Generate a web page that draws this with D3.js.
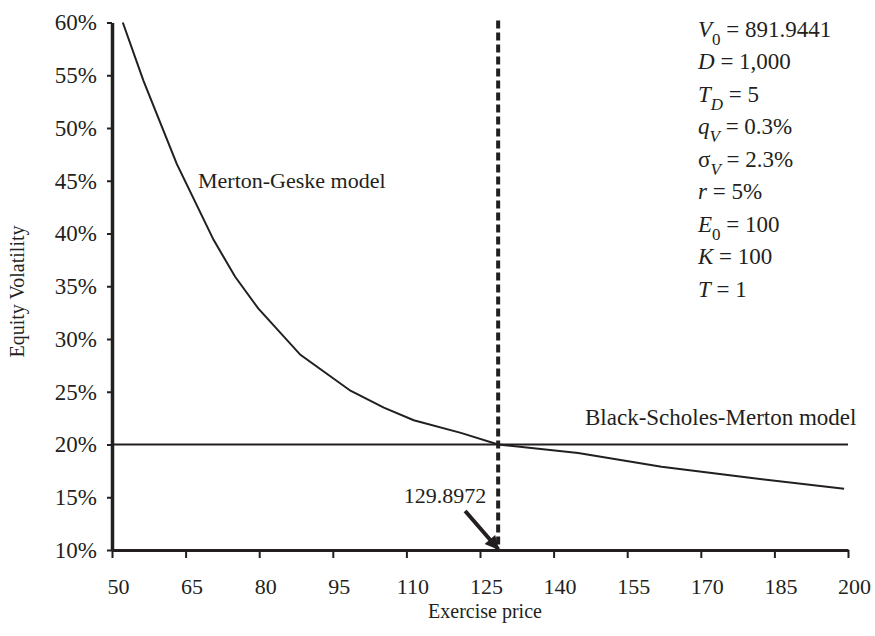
<!DOCTYPE html>
<html>
<head>
<meta charset="utf-8">
<script src="https://cdn.jsdelivr.net/npm/d3@7"></script>
<style>
  body { margin: 0; background: #fff; }
  text { font-family: "Liberation Serif", "Times New Roman", serif; fill: #231f20; }
</style>
</head>
<body>
<script>
// ticks
var priceTicks = [50, 65, 80, 95, 110, 125, 140, 155, 170, 185, 200];
var volTicks = [0.10, 0.15, 0.20, 0.25, 0.30, 0.35, 0.40, 0.45, 0.50, 0.55, 0.60];

// Merton-Geske implied equity volatility vs exercise price
var mgPrice = [52.2, 56.4, 63.2, 70.7, 75.1, 79.8, 88.4, 98.6, 105.4, 111.5, 121.1, 128.7, 145, 162, 180, 199.2];
var mgVol   = [0.600, 0.545, 0.466, 0.394, 0.359, 0.329, 0.285, 0.251, 0.235, 0.223, 0.211, 0.200, 0.192, 0.179, 0.1685, 0.158];

// Black-Scholes-Merton flat volatility
var bsmVol = 0.20;
var bsmRange = [50, 200];

// crossing point
var crossPrice = 128.7;
var crossLabel = "129.8972";

// parameter box: [text, italic, subscript]
var params = [
  [["V", 1, 0], ["0", 0, 1], [" = 891.9441", 0, 0]],
  [["D", 1, 0], [" = 1,000", 0, 0]],
  [["T", 1, 0], ["D", 1, 1], [" = 5", 0, 0]],
  [["q", 1, 0], ["V", 1, 1], [" = 0.3%", 0, 0]],
  [["\u03c3", 0, 0], ["V", 1, 1], [" = 2.3%", 0, 0]],
  [["r", 1, 0], [" = 5%", 0, 0]],
  [["E", 1, 0], ["0", 0, 1], [" = 100", 0, 0]],
  [["K", 1, 0], [" = 100", 0, 0]],
  [["T", 1, 0], [" = 1", 0, 0]]
];

var W = 875, H = 636;
var ink = "#231f20";

var svg = d3.select("body").append("svg")
  .attr("width", W)
  .attr("height", H);

var x = d3.scaleLinear().domain([50, 200]).range([112, 848]);
var y = d3.scaleLinear().domain([0.10, 0.60]).range([550, 22.5]);

// x axis
var xAxis = svg.append("g")
  .attr("transform", "translate(0," + y(0.10) + ")")
  .call(d3.axisBottom(x).tickValues(priceTicks).tickSize(8).tickSizeOuter(0).tickPadding(20));
xAxis.select(".domain").attr("stroke", ink).attr("stroke-width", 3);
xAxis.selectAll(".tick line").attr("stroke", ink).attr("stroke-width", 2);
xAxis.selectAll(".tick text")
  .attr("fill", ink)
  .attr("dx", 6)
  .style("font-size", "22px")
  .style("font-family", '"Liberation Serif", serif');

// y axis
var yAxis = svg.append("g")
  .attr("transform", "translate(" + x(50) + ",0)")
  .call(d3.axisLeft(y).tickValues(volTicks).tickFormat(d3.format(".0%")).tickSize(5).tickSizeOuter(0).tickPadding(10));
yAxis.select(".domain").attr("stroke", ink).attr("stroke-width", 3.5);
yAxis.selectAll(".tick line").attr("stroke", ink).attr("stroke-width", 2);
yAxis.selectAll(".tick text")
  .attr("fill", ink)
  .style("font-size", "23px")
  .style("font-family", '"Liberation Serif", serif');

// axis titles
svg.append("text")
  .attr("x", (x(50) + x(200)) / 2 + 5)
  .attr("y", 618)
  .attr("text-anchor", "middle")
  .style("font-size", "20px")
  .text("Exercise price");

svg.append("text")
  .attr("transform", "translate(24," + y(0.345) + ") rotate(-90)")
  .attr("text-anchor", "middle")
  .style("font-size", "20px")
  .text("Equity Volatility");

// BSM flat line
svg.append("line")
  .attr("x1", x(bsmRange[0])).attr("x2", x(bsmRange[1]))
  .attr("y1", y(bsmVol)).attr("y2", y(bsmVol))
  .attr("stroke", ink).attr("stroke-width", 2);

// Merton-Geske curve
var line = d3.line()
  .x(function(d) { return x(d[0]); })
  .y(function(d) { return y(d[1]); });

svg.append("path")
  .datum(d3.zip(mgPrice, mgVol))
  .attr("d", line)
  .attr("fill", "none")
  .attr("stroke", ink)
  .attr("stroke-width", 2);

// dashed vertical line
svg.append("line")
  .attr("x1", x(crossPrice)).attr("x2", x(crossPrice))
  .attr("y1", y(0.60) - 2).attr("y2", y(0.10))
  .attr("stroke", ink).attr("stroke-width", 4)
  .attr("stroke-dasharray", "8,4");

// arrow
svg.append("defs").append("marker")
  .attr("id", "head")
  .attr("viewBox", "0 0 10 10")
  .attr("refX", 9).attr("refY", 5)
  .attr("markerWidth", 6).attr("markerHeight", 3.5)
  .attr("orient", "auto")
  .append("path")
  .attr("d", "M0,0 L10,5 L0,10 Z")
  .attr("fill", ink);

svg.append("line")
  .attr("x1", x(crossPrice) - 33).attr("y1", y(0.10) - 39)
  .attr("x2", x(crossPrice)).attr("y2", y(0.10) - 1)
  .attr("stroke", ink).attr("stroke-width", 4)
  .attr("marker-end", "url(#head)");

svg.append("text")
  .attr("x", x(crossPrice) - 12)
  .attr("y", 503)
  .attr("text-anchor", "end")
  .style("font-size", "22px")
  .text(crossLabel);

// series labels
svg.append("text")
  .attr("x", 198).attr("y", 188)
  .style("font-size", "22px")
  .text("Merton-Geske model");

svg.append("text")
  .attr("x", 585).attr("y", 425)
  .style("font-size", "23px")
  .text("Black-Scholes-Merton model");

// parameter list
var pg = svg.append("g");
params.forEach(function(row, i) {
  var t = pg.append("text")
    .attr("x", 698)
    .attr("y", 36.7 + 32.5 * i)
    .style("font-size", "23px");
  var down = false;
  row.forEach(function(seg) {
    var s = t.append("tspan").text(seg[0]);
    if (seg[1]) s.style("font-style", "italic");
    if (seg[2]) {
      s.attr("dy", 8).style("font-size", "17px");
      down = true;
    } else if (down) {
      s.attr("dy", -8);
      down = false;
    }
  });
});
</script>
</body>
</html>
